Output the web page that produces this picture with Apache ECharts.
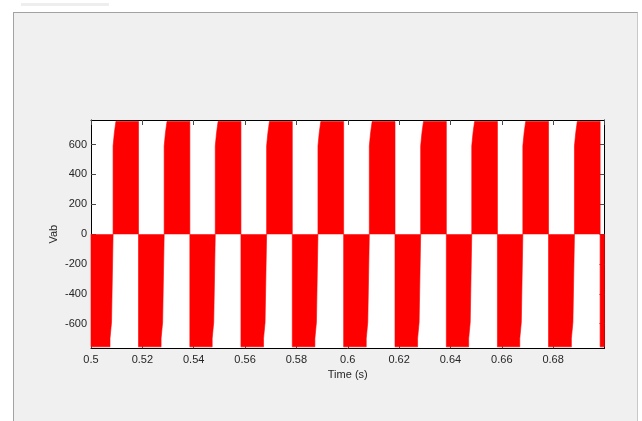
<!DOCTYPE html>
<html>
<head>
<meta charset="utf-8">
<script src="https://cdn.jsdelivr.net/npm/echarts@6/dist/echarts.min.js"></script>
<style>
  html, body { margin:0; padding:0; background:#fff; width:642px; height:421px; overflow:hidden; }
  #panel { position:absolute; left:13px; top:12px; width:623px; height:420px; background:#f0f0f0;
           border-left:1px solid #a3a3a3; border-top:1px solid #a3a3a3; border-right:1px solid #c8c8c8; }
  #tab { position:absolute; left:21px; top:3px; width:88px; height:3px; background:#eeeeee; }
  #chart { position:absolute; left:0; top:0; width:642px; height:421px; }
</style>
</head>
<body>
<div id="tab"></div>
<div id="panel"></div>
<div id="chart"></div>
<script>
// Zero-crossing times of the line voltage (s)
const crossTimes = [0.5, 0.5086, 0.5185, 0.5285, 0.5385, 0.5484, 0.5584, 0.5684, 0.5784,
  0.5884, 0.5984, 0.6084, 0.6184, 0.6284, 0.6384, 0.6483, 0.6583, 0.6682, 0.6782,
  0.6883, 0.6983, 0.7];
// Sign of each half-cycle block between successive crossings
const blockSigns = [-1, 1, -1, 1, -1, 1, -1, 1, -1, 1, -1, 1, -1, 1, -1, 1, -1, 1, -1, 1, -1];
// Pulse amplitude (V)
const peakLevel = 755;
// Lower pulses at the start of a positive block: offsets after crossing (s) and levels (V)
const posRampOffsets = [0, 0.0005, 0.0011];
const posRampLevels = [590, 680, 755];
// Lower pulses at the end of a negative block: offsets before crossing (s) and levels (V)
const negRampOffsets = [0.0012, 0.0006];
const negRampLevels = [-700, -590];
// Tick labels
const xTickLabels = ['0.5','0.52','0.54','0.56','0.58','0.6','0.62','0.64','0.66','0.68'];
const yTickValues = [-600, -400, -200, 0, 200, 400, 600];

const pts = [];
for (let i = 0; i < blockSigns.length; i++) {
  const t0 = crossTimes[i], t1 = crossTimes[i + 1];
  pts.push([t0, 0]);
  if (blockSigns[i] > 0) {
    for (let k = 0; k < posRampOffsets.length; k++) {
      const a = t0 + posRampOffsets[k];
      if (a >= t1) break;
      if (k > 0) pts.push([a, posRampLevels[k - 1]]);
      pts.push([a, posRampLevels[k]]);
    }
    pts.push([t1, peakLevel]);
  } else {
    pts.push([t0, -peakLevel]);
    const hasRamp = t1 < 0.7 && (t1 - t0) > 0.003;
    if (hasRamp) {
      let prev = -peakLevel;
      for (let k = 0; k < negRampOffsets.length; k++) {
        const a = t1 - negRampOffsets[k];
        pts.push([a, prev]);
        pts.push([a, negRampLevels[k]]);
        prev = negRampLevels[k];
      }
      pts.push([t1, prev]);
    } else {
      pts.push([t1, -peakLevel]);
    }
  }
  pts.push([t1, 0]);
}

const fontFam = 'Liberation Sans, Arial, Helvetica, sans-serif';
const txt = '#262626';
const tickCol = '#4a4a4a';
const chart = echarts.init(document.getElementById('chart'), null, { renderer: 'canvas' });
const xFmt = v => { const s = String(+v.toFixed(2)); return xTickLabels.indexOf(s) >= 0 ? s : ''; };
chart.setOption({
  animation: false,
  backgroundColor: 'transparent',
  grid: { left: 91, top: 120, right: 37.5, bottom: 72.7, show: true, backgroundColor: '#ffffff', borderWidth: 0 },
  xAxis: [{
    type: 'value', min: 0.5, max: 0.7, interval: 0.02, position: 'bottom',
    name: 'Time (s)', nameLocation: 'middle', nameGap: 21, nameMoveOverlap: false,
    nameTextStyle: { fontFamily: fontFam, fontSize: 11, color: txt },
    axisLine: { show: true, onZero: false, lineStyle: { color: '#000', width: 1 } },
    axisTick: { show: true, inside: true, length: 5, lineStyle: { color: tickCol } },
    axisLabel: { formatter: xFmt, fontFamily: fontFam, fontSize: 11, color: txt, margin: 6, showMaxLabel: false },
    splitLine: { show: false }
  }, {
    type: 'value', min: 0.5, max: 0.7, interval: 0.02, position: 'top',
    axisLine: { show: true, onZero: false, lineStyle: { color: '#000', width: 1 } },
    axisTick: { show: true, inside: true, length: 5, lineStyle: { color: tickCol } },
    axisLabel: { show: false }, splitLine: { show: false }
  }],
  yAxis: [{
    type: 'value', min: -765, max: 765, position: 'left',
    name: 'Vab', nameLocation: 'middle', nameGap: 32, nameRotate: 90, nameMoveOverlap: false,
    nameTextStyle: { fontFamily: fontFam, fontSize: 11, color: txt },
    axisLine: { show: true, onZero: false, lineStyle: { color: '#000', width: 1 } },
    axisTick: { show: true, inside: true, length: 5, customValues: yTickValues, lineStyle: { color: tickCol } },
    axisLabel: { customValues: yTickValues, fontFamily: fontFam, fontSize: 11, color: txt, margin: 4 },
    splitLine: { show: false }
  }, {
    type: 'value', min: -765, max: 765, position: 'right',
    axisLine: { show: true, onZero: false, lineStyle: { color: '#000', width: 1 } },
    axisTick: { show: true, inside: true, length: 5, customValues: yTickValues, lineStyle: { color: tickCol } },
    axisLabel: { show: false }, splitLine: { show: false }
  }],
  series: [{
    type: 'line', xAxisIndex: 0, yAxisIndex: 0, data: pts,
    showSymbol: false, symbol: 'none',
    lineStyle: { color: '#ff0000', width: 0.6 },
    areaStyle: { color: '#ff0000', opacity: 1, origin: 0 },
    silent: true
  }]
});
</script>
</body>
</html>
